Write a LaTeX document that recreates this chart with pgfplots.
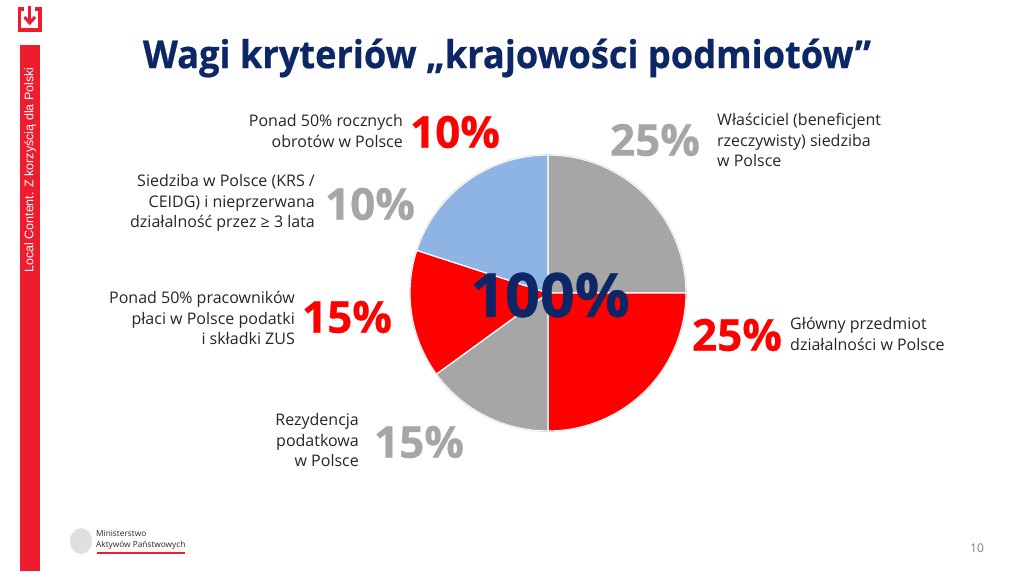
\documentclass[border=0pt]{standalone}
\usepackage{fontspec}
\setmainfont{Open Sans}
\newfontfamily\arialfont{Liberation Sans}
\newfontfamily\heavyfont{Open Sans}[FakeBold=0.6]
\usepackage{pgfplots}
\pgfplotsset{compat=1.18}
\usepgfplotslibrary{polar}
\definecolor{pgray}{RGB}{166,166,166}
\definecolor{pred}{RGB}{255,0,0}
\definecolor{pblue}{RGB}{141,180,226}
\definecolor{navy}{RGB}{12,38,102}
\definecolor{txt}{RGB}{38,38,38}
\definecolor{barred}{RGB}{237,28,46}
\begin{document}
\begin{tikzpicture}[x=1pt,y=-1pt]
\fill[white] (0,0) rectangle (1024,571);
\useasboundingbox (0,0) rectangle (1024,571);
% left bar
\fill[barred] (20,45) rectangle (40,571);
\node[rotate=90, text=white, font=\arialfont\fontsize{12.5}{14}\selectfont] at (30,170) {Local Content. Z korzyścią dla Polski};
% logo
\draw[barred, line width=3.5pt] (24,9) -- (19.5,9) -- (19.5,30) -- (40,30) -- (40,9) -- (35,9);
\draw[barred, line width=3.5pt] (29.7,6) -- (29.7,22);
\draw[barred, line width=3pt] (24.5,17) -- (29.7,23) -- (35,17);
% title
\node[text=navy, font=\heavyfont\bfseries\fontsize{38.5}{40}\selectfont] at (507,58) {\scalebox{0.94}[1]{Wagi kryteriów „krajowości podmiotów”}};
% pie
\begin{scope}[x=1pt,y=1pt]
\begin{polaraxis}[at={(548pt,-293pt)}, anchor=center, scale only axis, width=276pt, height=276pt,
  xmin=0, xmax=360, ymin=0, ymax=1, hide axis, clip=false]
% slices clockwise from top: 25%, 25%, 15%, 15%, 20% (two 10%)
\addplot[draw=white, line width=1.2pt, fill=pgray, domain=0:90, samples=46] {1} -- (axis cs:0,0) -- cycle;
\addplot[draw=white, line width=1.2pt, fill=pred, domain=-90:0, samples=46] {1} -- (axis cs:0,0) -- cycle;
\addplot[draw=white, line width=1.2pt, fill=pgray, domain=-144:-90, samples=30] {1} -- (axis cs:0,0) -- cycle;
\addplot[draw=white, line width=1.2pt, fill=pred, domain=-198:-144, samples=30] {1} -- (axis cs:0,0) -- cycle;
\addplot[draw=white, line width=1.2pt, fill=pblue, domain=-270:-198, samples=38] {1} -- (axis cs:0,0) -- cycle;
\addplot[draw=gray!25, line width=0.6pt, domain=0:360, samples=120] {1.004};
\end{polaraxis}
\end{scope}
% center label
\node[text=navy, font=\heavyfont\bfseries\fontsize{61}{61}\selectfont, inner sep=0] at (550,295) {100\%};
% percentages
\node[text=pred, font=\heavyfont\bfseries\fontsize{44}{44}\selectfont, inner sep=0] at (455,132) {10\%};
\node[text=pgray, font=\heavyfont\bfseries\fontsize{44}{44}\selectfont, inner sep=0] at (370,204) {10\%};
\node[text=pred, font=\heavyfont\bfseries\fontsize{44}{44}\selectfont, inner sep=0] at (347,317) {15\%};
\node[text=pgray, font=\heavyfont\bfseries\fontsize{44}{44}\selectfont, inner sep=0] at (419,442) {15\%};
\node[text=pgray, font=\heavyfont\bfseries\fontsize{44}{44}\selectfont, inner sep=0] at (655,140) {25\%};
\node[text=pred, font=\heavyfont\bfseries\fontsize{44}{44}\selectfont, inner sep=0] at (737,335) {25\%};
% labels
\tikzset{lab/.style={text=txt, font=\fontsize{16}{20.5}\selectfont, inner sep=0}}
\node[lab, anchor=east, align=right] at (403,131) {Ponad 50\% rocznych\\obrotów w Polsce};
\node[lab, anchor=east, align=right] at (315,203) {Siedziba w Polsce (KRS /\\CEIDG) i nieprzerwana\\działalność przez ≥ 3 lata};
\node[lab, anchor=east, align=right] at (295,318) {Ponad 50\% pracowników\\płaci w Polsce podatki\\i składki ZUS};
\node[lab, anchor=east, align=right] at (359,440) {Rezydencja\\podatkowa\\w Polsce};
\node[lab, anchor=west, align=left] at (717,140) {Właściciel (beneficjent\\rzeczywisty) siedziba\\w Polsce};
\node[lab, anchor=west, align=left] at (790,334) {Główny przedmiot\\działalności w Polsce};
% ministry logo
\fill[gray!25] (81,541) ellipse (11 and 13);
\node[anchor=west, align=left, text=txt, inner sep=0, font=\fontsize{8.3}{11}\selectfont] at (96,540) {Ministerstwo\\Aktywów Państwowych};
\draw[barred, line width=1.5pt] (97,553) -- (185,553);
% page number
\node[text=gray, font=\fontsize{12}{14}\selectfont] at (977,548) {10};
\end{tikzpicture}
\end{document}
